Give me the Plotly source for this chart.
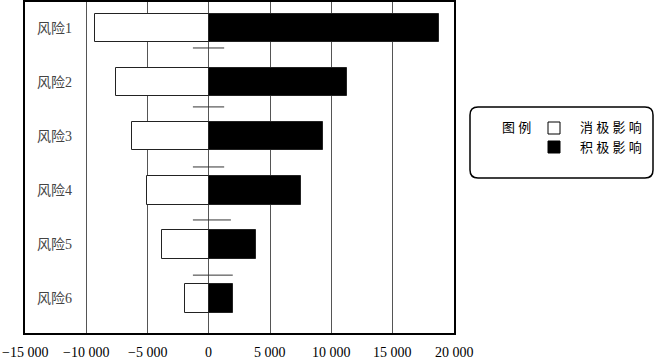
import plotly.graph_objects as go

categories = ["风险1", "风险2", "风险3", "风险4", "风险5", "风险6"]
negative_impact = [-9250, -7550, -6250, -5050, -3800, -1950]
positive_impact = [18800, 11300, 9350, 7500, 3850, 2000]
sep_y = [0.37, 1.46, 2.57, 3.55, 4.57]
sep_left = [-1300, -1300, -1300, -1300, -1300]
sep_right = [1250, 1250, 1250, 1800, 1950]
tick_vals = [-15000, -10000, -5000, 0, 5000, 10000, 15000, 20000]
tick_text = ["−15 000", "−10 000", "−5 000", "0", "5 000", "10 000", "15 000", "20 000"]
legend_title = "图 例"
legend_labels = ["消 极 影 响", "积 极 影 响"]

FONT = "Liberation Serif, Noto Sans CJK SC, serif"
ypos = list(range(len(categories)))

fig = go.Figure()
fig.add_trace(go.Bar(y=ypos, x=negative_impact, orientation="h", width=0.53,
                     marker=dict(color="white", line=dict(color="#222", width=1)),
                     showlegend=False))
fig.add_trace(go.Bar(y=ypos, x=positive_impact, orientation="h", width=0.53,
                     marker=dict(color="black", line=dict(color="#222", width=1)),
                     showlegend=False))
for yv, x0, x1 in zip(sep_y, sep_left, sep_right):
    fig.add_trace(go.Scatter(x=[x0, x1], y=[yv, yv], mode="lines",
                             line=dict(color="#333", width=1), showlegend=False,
                             hoverinfo="skip"))

W, H = 655, 361
ML, MR, MT, MB = 25, 201, 2, 28
PW, PH = W - ML - MR, H - MT - MB

def px(x):
    return (x - ML) / PW

def py(y):
    return 1 - (y - MT) / PH

# Legend box (rounded)
x0, x1, y0, y1, r = 470, 653, 107, 178, 8
path = (f"M {px(x0+r)},{py(y0)} L {px(x1-r)},{py(y0)} Q {px(x1)},{py(y0)} {px(x1)},{py(y0+r)} "
        f"L {px(x1)},{py(y1-r)} Q {px(x1)},{py(y1)} {px(x1-r)},{py(y1)} "
        f"L {px(x0+r)},{py(y1)} Q {px(x0)},{py(y1)} {px(x0)},{py(y1-r)} "
        f"L {px(x0)},{py(y0+r)} Q {px(x0)},{py(y0)} {px(x0+r)},{py(y0)} Z")
shapes = [dict(type="path", path=path, xref="paper", yref="paper",
               line=dict(color="black", width=1.5))]
sq_fill = ["white", "black"]
for i, fc in enumerate(sq_fill):
    top = 122 + i * 19
    shapes.append(dict(type="rect", xref="paper", yref="paper",
                       x0=px(548), x1=px(560), y0=py(top + 12), y1=py(top),
                       fillcolor=fc, line=dict(color="black", width=1)))
annotations = [dict(text=legend_title, x=px(500), y=py(128), xref="paper", yref="paper",
                    xanchor="left", yanchor="middle", showarrow=False,
                    font=dict(family=FONT, size=13, color="black"))]
for i, lab in enumerate(legend_labels):
    annotations.append(dict(text=lab, x=px(578), y=py(128 + i * 19), xref="paper", yref="paper",
                            xanchor="left", yanchor="middle", showarrow=False,
                            font=dict(family=FONT, size=13, color="black")))
# x tick labels placed by the x scale
for v, t in zip(tick_vals, tick_text):
    annotations.append(dict(text=t, x=v, y=py(352), xref="x", yref="paper",
                            xanchor="center", yanchor="middle", showarrow=False,
                            font=dict(family=FONT, size=14, color="black")))

fig.update_layout(
    width=W, height=H,
    margin=dict(l=ML, r=MR, t=MT, b=MB, autoexpand=False),
    paper_bgcolor="white", plot_bgcolor="white",
    barmode="overlay", bargap=0,
    font=dict(family=FONT, size=14, color="black"),
    shapes=shapes, annotations=annotations,
    xaxis=dict(range=[-15000, 20000], tickvals=tick_vals, ticktext=tick_text,
               showgrid=True, gridcolor="#555", gridwidth=1, zeroline=False,
               showline=True, linecolor="black", linewidth=1.5, mirror=True,
               ticks="", showticklabels=False, automargin=False),
    yaxis=dict(range=[5.64, -0.48], tickvals=ypos, ticktext=categories,
               showgrid=False, zeroline=False,
               showline=True, linecolor="black", linewidth=1.5, mirror=True,
               ticks="", ticklabelposition="inside", ticklabelstandoff=12,
               automargin=False, tickfont=dict(size=14)),
)

fig.write_html("out.html", config={"displayModeBar": False},
               post_script="document.body.style.margin='0';")
